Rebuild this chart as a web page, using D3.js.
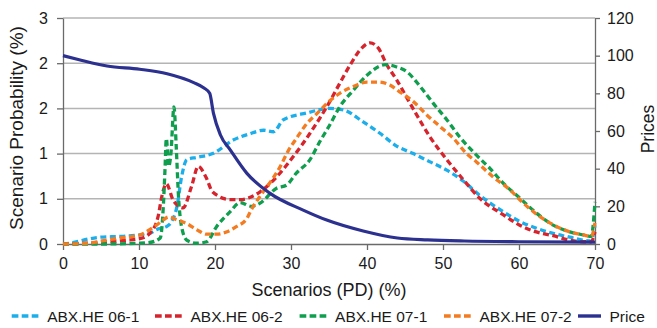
<!DOCTYPE html>
<html>
<head>
<meta charset="utf-8">
<script src="https://cdn.jsdelivr.net/npm/d3@7"></script>
<style>
  body { margin: 0; background: #fff; }
  text { font-family: "Liberation Sans", Arial, Helvetica, sans-serif; fill: #1a1a1a; }
</style>
</head>
<body>
<svg id="chart" width="657" height="328"></svg>
<script>
// scenario PD (%) and probability (%)
const abx061 = [[0,0],[1,0.01],[2.2,0.04],[4.9,0.09],[7.5,0.1],[10.1,0.12],[11.4,0.14],[12.3,0.19],[13.6,0.23],[14.3,0.3],[15,0.5],[15.6,0.89],[16.3,1.12],[17.6,1.15],[19.7,1.2],[22.4,1.38],[24.5,1.46],[26.4,1.51],[27.7,1.49],[29,1.65],[32.1,1.74],[35.1,1.8],[36.9,1.78],[39.5,1.62],[41.7,1.47],[43.9,1.3],[46.1,1.2],[48.3,1.09],[50.5,0.98],[52.6,0.84],[54.9,0.64],[57.9,0.43],[60.1,0.3],[62.3,0.21],[64.5,0.14],[66.7,0.09],[68.5,0.05],[69.5,0.04],[70,0.25]];
const abx062 = [[0,0],[3,0.01],[5.7,0.03],[8.4,0.05],[10.1,0.07],[11.4,0.14],[12.5,0.36],[13,0.63],[13.6,0.8],[14.5,0.58],[15.8,0.48],[16.9,0.76],[17.8,1.03],[18.8,0.89],[19.7,0.69],[22,0.59],[23.3,0.59],[25.9,0.69],[28.1,0.89],[30.3,1.16],[32.5,1.47],[35.1,1.89],[36.4,2.13],[37.8,2.38],[39.3,2.6],[40.4,2.67],[41.5,2.6],[42.6,2.38],[43.9,2.18],[45.2,1.95],[46.5,1.72],[48.3,1.42],[50.5,1.12],[52.7,0.85],[54.9,0.6],[57.9,0.39],[60.1,0.25],[62.3,0.16],[64.5,0.11],[66.7,0.05],[68.5,0.03],[69.5,0.03],[70,0.16]];
const abx071 = [[0,0],[5,0],[10,0.01],[11.4,0.02],[12.8,0.08],[13.2,0.5],[13.4,0.94],[13.6,1.4],[13.9,1.03],[14.2,1.2],[14.6,1.82],[14.9,1.29],[15.2,0.63],[15.6,0.23],[16.3,0.05],[17.6,0.01],[18.9,0.03],[20.2,0.23],[22,0.43],[23.3,0.55],[24.8,0.5],[25.9,0.54],[28.1,0.74],[29.4,0.78],[30.7,0.94],[32.5,1.12],[33.8,1.36],[35.1,1.58],[36.4,1.82],[38.2,2.04],[40,2.24],[42.4,2.38],[43.9,2.35],[45.2,2.29],[47,2.09],[48.7,1.87],[50.5,1.65],[52.2,1.42],[54.2,1.2],[56.2,1.0],[57.9,0.81],[60.1,0.61],[62.3,0.41],[64.5,0.25],[66.7,0.16],[68.5,0.12],[69.5,0.1],[70,0.56]];
const abx072 = [[0,0],[3.1,0.01],[6.2,0.06],[7.5,0.08],[10.1,0.12],[11.4,0.19],[12.3,0.25],[13.2,0.32],[13.9,0.36],[15,0.32],[16.3,0.27],[17.6,0.19],[18.9,0.13],[20.2,0.13],[21.5,0.16],[22.8,0.23],[24.2,0.34],[24.8,0.46],[25.9,0.63],[27.2,0.81],[28.6,1.03],[29.6,1.23],[30.7,1.4],[32.1,1.6],[33.4,1.73],[35.1,1.9],[36.4,2.0],[38.2,2.09],[40,2.15],[41.5,2.15],[43,2.11],[44.3,2.02],[46.1,1.89],[47.9,1.71],[49.6,1.56],[51.4,1.4],[53.1,1.2],[54.4,1.09],[56.6,0.89],[58.8,0.72],[60.6,0.54],[62.8,0.36],[65,0.23],[66.7,0.16],[68.5,0.12],[69.5,0.1],[70,0.28]];
// price (right axis)
const price = [[0,100],[2,98],[5.8,94.5],[10.1,92.8],[13.7,90.4],[17.2,85.7],[18.5,83],[19.3,80],[19.8,69.4],[20.7,58],[22,50],[24.2,37.5],[27.2,27],[31.6,18],[34.7,12.7],[39.5,6.9],[44,3.2],[48,2.2],[52.8,1.6],[60,1.2],[70,1]];

const seriesNames = ["ABX.HE 06-1", "ABX.HE 06-2", "ABX.HE 07-1", "ABX.HE 07-2", "Price"];
const seriesColors = ["#1caeea", "#d6232c", "#0e9e4d", "#f47b20", "#2c3190"];
const xTicks = [0, 10, 20, 30, 40, 50, 60, 70];
const leftTicks = [0, 0.6, 1.2, 1.8, 2.4, 3];
const rightTicks = [0, 20, 40, 60, 80, 100, 120];

const svg = d3.select("#chart");
const x0 = 63, x1 = 595, yTop = 18, yBot = 244;

const x = d3.scaleLinear().domain([0, 70]).range([x0, x1]);
const yL = d3.scaleLinear().domain([0, 3]).range([yBot, yTop]);
const yR = d3.scaleLinear().domain([0, 120]).range([yBot, yTop]);

// grid
svg.append("g")
  .selectAll("line")
  .data(leftTicks.slice(1))
  .join("line")
  .attr("x1", x0).attr("x2", x1)
  .attr("y1", (d) => yL(d)).attr("y2", (d) => yL(d))
  .attr("stroke", "#b4b4b4")
  .attr("stroke-width", 1.5);

const styleAxis = (g) => {
  g.select(".domain").attr("stroke", "#6a6a6a").attr("stroke-width", 1.3);
  g.selectAll(".tick line").attr("stroke", "#6a6a6a").attr("stroke-width", 1.3);
  g.selectAll(".tick text").attr("font-size", 16).attr("fill", "#1a1a1a")
    .style("font-family", '"Liberation Sans", Arial, sans-serif');
};

svg.append("g")
  .attr("transform", `translate(0,${yBot})`)
  .call(d3.axisBottom(x).tickValues(xTicks).tickSize(6).tickSizeOuter(0).tickPadding(8))
  .call(styleAxis);

svg.append("g")
  .attr("transform", `translate(${x0},0)`)
  .call(d3.axisLeft(yL).tickValues(leftTicks).tickFormat(d3.format(".0f")).tickSize(6).tickSizeOuter(0).tickPadding(9))
  .call(styleAxis);

svg.append("g")
  .attr("transform", `translate(${x1},0)`)
  .call(d3.axisRight(yR).tickValues(rightTicks).tickSize(5).tickSizeOuter(0).tickPadding(7))
  .call(styleAxis);

// lines
const lineL = d3.line().x((d) => x(d[0])).y((d) => yL(d[1])).curve(d3.curveMonotoneX);
const lineR = d3.line().x((d) => x(d[0])).y((d) => yR(d[1])).curve(d3.curveMonotoneX);

const dashed = [abx061, abx062, abx071, abx072];
svg.append("g")
  .selectAll("path")
  .data(dashed)
  .join("path")
  .attr("d", (d) => lineL(d))
  .attr("fill", "none")
  .attr("stroke", (d, i) => seriesColors[i])
  .attr("stroke-width", 3.3)
  .attr("stroke-dasharray", "6,3.5");

svg.append("path")
  .attr("d", lineR(price))
  .attr("fill", "none")
  .attr("stroke", seriesColors[4])
  .attr("stroke-width", 3.2);

// axis titles
svg.append("text")
  .attr("x", (x0 + x1) / 2).attr("y", 296)
  .attr("text-anchor", "middle")
  .attr("font-size", 18)
  .text("Scenarios (PD) (%)");

svg.append("text")
  .attr("transform", "translate(23,128) rotate(-90)")
  .attr("text-anchor", "middle")
  .attr("font-size", 19)
  .text("Scenario Probability (%)");

svg.append("text")
  .attr("transform", "translate(654,129) rotate(-90)")
  .attr("text-anchor", "middle")
  .attr("font-size", 17.5)
  .text("Prices");

// legend
const legendX = [11.7, 155, 299.6, 444, 578];
const legend = svg.append("g");
seriesNames.forEach((name, i) => {
  const lx = legendX[i];
  const sw = i < 4 ? 27 : 23;
  legend.append("line")
    .attr("x1", lx).attr("x2", lx + sw)
    .attr("y1", 316).attr("y2", 316)
    .attr("stroke", seriesColors[i])
    .attr("stroke-width", i < 4 ? 3.6 : 3.4)
    .attr("stroke-dasharray", i < 4 ? "6.7,3.3" : null);
  legend.append("text")
    .attr("x", lx + sw + 8.5).attr("y", 321.5)
    .attr("font-size", 15.5)
    .text(name);
});
</script>
</body>
</html>
